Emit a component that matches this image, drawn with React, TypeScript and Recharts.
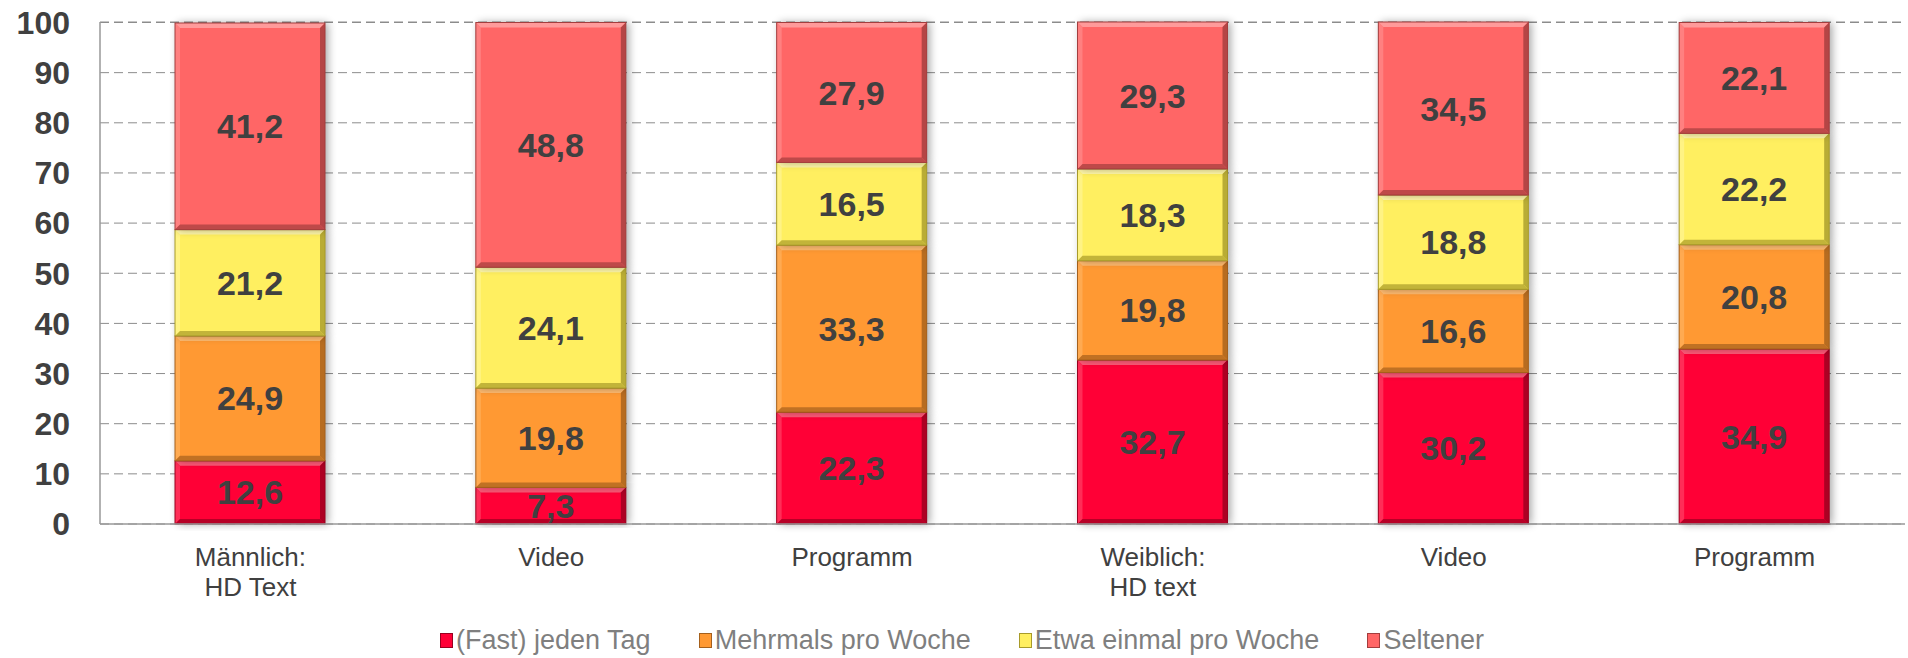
import React from 'react';
import { BarChart, Bar, XAxis, YAxis, CartesianGrid, Legend, LabelList } from 'recharts';

const categories = ['Männlich:\nHD Text', 'Video', 'Programm', 'Weiblich:\nHD text', 'Video', 'Programm'];
const fastJedenTag = [12.6, 7.3, 22.3, 32.7, 30.2, 34.9];
const mehrmalsProWoche = [24.9, 19.8, 33.3, 19.8, 16.6, 20.8];
const etwaEinmalProWoche = [21.2, 24.1, 16.5, 18.3, 18.8, 22.2];
const seltener = [41.2, 48.8, 27.9, 29.3, 34.5, 22.1];
const yTicks = [0, 10, 20, 30, 40, 50, 60, 70, 80, 90, 100];

const FONT = 'Arial, "Liberation Sans", sans-serif';

const series = [
  { key: 'fast', name: '(Fast) jeden Tag', values: fastJedenTag, fill: '#FF0036', light: '#FF5A78', dark: '#99001F' },
  { key: 'mehrmals', name: 'Mehrmals pro Woche', values: mehrmalsProWoche, fill: '#FF9933', light: '#FFBB70', dark: '#A5601C' },
  { key: 'etwa', name: 'Etwa einmal pro Woche', values: etwaEinmalProWoche, fill: '#FFEF60', light: '#FFF7A8', dark: '#A89B2A' },
  { key: 'seltener', name: 'Seltener', values: seltener, fill: '#FF6666', light: '#FF9A9A', dark: '#A33D3D' },
];

const data = categories.map((name, i) => {
  const row: Record<string, string | number> = { name };
  series.forEach((s) => {
    row[s.key] = s.values[i];
  });
  return row;
});

const fmt = (v: any) => Number(v).toFixed(1).replace('.', ',');

const BevelBar = (props: any) => {
  const { x, y, width: w, height: h, colors } = props;
  if (!w || !h) return null;
  const b = Math.min(5, h / 3);
  return (
    <g>
      <rect x={x + 3} y={y} width={w} height={h} fill="#000" opacity={0.35} filter="url(#barShadow)" />
      <rect x={x} y={y} width={w} height={h} fill={colors.fill} />
      <polygon points={`${x},${y} ${x + w},${y} ${x + w - b},${y + b} ${x + b},${y + b}`} fill={colors.light} />
      <polygon points={`${x},${y} ${x + b},${y + b} ${x + b},${y + h - b} ${x},${y + h}`} fill={colors.light} opacity={0.5} />
      <polygon points={`${x + w},${y} ${x + w},${y + h} ${x + w - b},${y + h - b} ${x + w - b},${y + b}`} fill={colors.dark} opacity={0.8} />
      <polygon points={`${x},${y + h} ${x + w},${y + h} ${x + w - b},${y + h - b} ${x + b},${y + h - b}`} fill={colors.dark} opacity={0.7} />
      <rect x={x} y={y} width={w} height={h} fill="none" stroke={colors.dark} strokeWidth={1} />
    </g>
  );
};

const CategoryTick = (props: any) => {
  const { x, y, payload } = props;
  const lines = String(payload.value).split('\n');
  return (
    <text x={x} y={y} textAnchor="middle" fill="#404040" fontSize={26} fontFamily={FONT}>
      {lines.map((line, i) => (
        <tspan key={i} x={x} dy={i === 0 ? 42 : 30}>
          {line}
        </tspan>
      ))}
    </text>
  );
};

const renderLegend = () => (
  <div
    style={{
      display: 'flex',
      justifyContent: 'center',
      alignItems: 'center',
      gap: 48,
      fontFamily: FONT,
      fontSize: 27,
      color: '#7F7F7F',
      width: '100%',
    }}
  >
    {series.map((s) => (
      <span key={s.key} style={{ display: 'flex', alignItems: 'center' }}>
        <span
          style={{
            display: 'inline-block',
            width: 11,
            height: 13,
            background: s.fill,
            border: `1px solid ${s.dark}`,
            marginRight: 3,
          }}
        />
        {s.name}
      </span>
    ))}
  </div>
);

export default function App() {
  return (
    <div style={{ position: 'absolute', left: 0, top: 0, width: 1908, height: 658, background: '#fff' }}>
      <BarChart width={1908} height={658} data={data} margin={{ top: 22, right: 3, left: 0, bottom: 54 }} barSize={150}>
        <defs>
          <filter id="barShadow" x="-20%" y="-10%" width="140%" height="120%">
            <feGaussianBlur stdDeviation="4" />
          </filter>
        </defs>
        <CartesianGrid vertical={false} stroke="#8C8C8C" strokeDasharray="9 5" />
        <XAxis
          dataKey="name"
          height={80}
          tick={<CategoryTick />}
          tickLine={false}
          tickSize={0}
          tickMargin={0}
          axisLine={{ stroke: '#999999', strokeWidth: 1.5 }}
          interval={0}
        />
        <YAxis
          width={100}
          domain={[0, 100]}
          ticks={yTicks}
          interval={0}
          tickLine={false}
          tickSize={0}
          tickMargin={30}
          axisLine={{ stroke: '#999999', strokeWidth: 1.5 }}
          tick={{ fill: '#404040', fontSize: 32, fontWeight: 'bold', fontFamily: FONT }}
        />
        <Legend
          verticalAlign="middle"
          align="center"
          layout="horizontal"
          content={renderLegend}
          wrapperStyle={{ top: 625, left: 8, width: 1908 }}
        />
        {series.map((s) => (
          <Bar
            key={s.key}
            dataKey={s.key}
            name={s.name}
            stackId="a"
            fill={s.fill}
            isAnimationActive={false}
            shape={(p: any) => <BevelBar {...p} colors={s} />}
          >
            <LabelList
              dataKey={s.key}
              position="center"
              formatter={fmt}
              fill="#404040"
              fontSize={34}
              fontWeight="bold"
              fontFamily={FONT}
            />
          </Bar>
        ))}
      </BarChart>
    </div>
  );
}
